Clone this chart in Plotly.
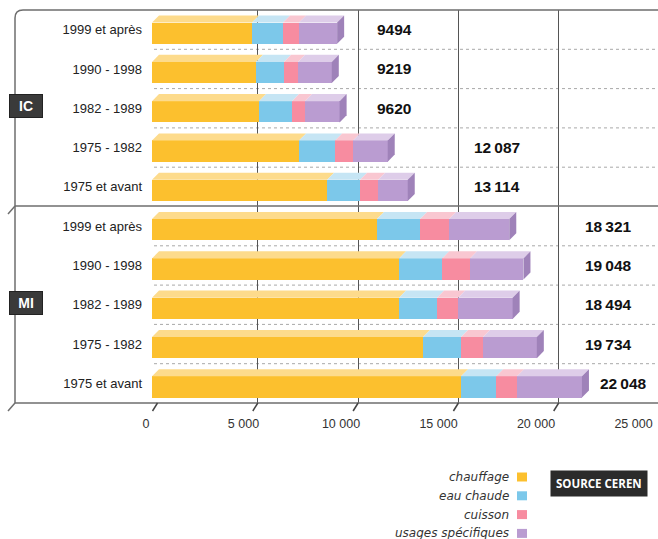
import plotly.graph_objects as go

# ---------------- data ----------------
categories = ["1999 et après", "1990 - 1998", "1982 - 1989", "1975 - 1982", "1975 et avant",
              "1999 et après", "1990 - 1998", "1982 - 1989", "1975 - 1982", "1975 et avant"]
groups = ["IC", "MI"]
series_names = ["chauffage", "eau chaude", "cuisson", "usages spécifiques"]
chauffage = [5130, 5335, 5490, 7540, 8980, 11540, 12670, 12670, 13900, 15850]
eau_chaude = [1590, 1435, 1690, 1850, 1690, 2210, 2210, 1950, 1950, 1800]
cuisson = [820, 720, 670, 920, 930, 1490, 1430, 1080, 1130, 1070]
usages = [1954, 1729, 1770, 1777, 1514, 3081, 2738, 2794, 2754, 3328]
totals = [9494, 9219, 9620, 12087, 13114, 18321, 19048, 18494, 19734, 22048]
tick_values = [0, 5000, 10000, 15000, 20000, 25000]
tick_labels = ["0", "5 000", "10 000", "15 000", "20 000", "25 000"]
source_text = "SOURCE CEREN"

# ---------------- style ----------------
front_colors = ["#FCC02E", "#7CC8EA", "#F78CA0", "#BA9CD1"]
top_colors = ["#FDDB8C", "#C6E5F4", "#F9C7D1", "#DECDE9"]
side_color = "#9F82B9"
FONT = "Liberation Sans, Arial, sans-serif"

W, H = 658, 539
L, T, B = 152, 10, 136
plot_w = W - L
plot_h = H - T - B
x_max = plot_w / 0.0195          # front plane scale
x2_min, x2_max = -274, 24950      # back plane (grid) scale

def px_to_paper_x(px):
    return (px - L) / plot_w

def py_to_paper_y(py):
    return (H - B - py) / plot_h

series = [chauffage, eau_chaude, cuisson, usages]
ypos = list(range(len(categories)))

fig = go.Figure()

FRONT_OFF, FRONT_W = -0.18, 0.54
for name, vals, col in zip(series_names, series, front_colors):
    fig.add_trace(go.Bar(
        y=ypos, x=vals, orientation="h", name=name,
        marker=dict(color=col, line=dict(width=0)),
        offset=FRONT_OFF, width=FRONT_W, showlegend=False,
        hovertemplate="%{x}<extra>" + name + "</extra>",
    ))

fig.add_trace(go.Scatter(x=[0], y=[0], xaxis="x2", yaxis="y", mode="markers",
                         marker=dict(opacity=0), showlegend=False, hoverinfo="skip"))

shapes = []
DX = 360      # depth in x units
DY = 0.18     # depth in y units
for i in ypos:
    start = 0
    y_top = i + FRONT_OFF
    for vals, col in zip(series, top_colors):
        end = start + vals[i]
        shapes.append(dict(
            type="path", xref="x", yref="y", layer="above",
            path=f"M {start},{y_top} L {start + DX},{y_top - DY} L {end + DX},{y_top - DY} L {end},{y_top} Z",
            fillcolor=col, line=dict(width=0)))
        start = end
    tot = start
    y_bot = i + FRONT_OFF + FRONT_W
    shapes.append(dict(
        type="path", xref="x", yref="y", layer="above",
        path=f"M {tot},{y_top} L {tot + DX},{y_top - DY} L {tot + DX},{y_bot - DY} L {tot},{y_bot} Z",
        fillcolor=side_color, line=dict(width=0)))

for i in range(len(categories) - 1):
    if i == 4:
        continue
    shapes.append(dict(type="line", xref="paper", yref="y", x0=px_to_paper_x(154), x1=1,
                       y0=i + 0.5, y1=i + 0.5, layer="below",
                       line=dict(color="#A8A8A8", width=1, dash="dot")))

frame = dict(color="#6E6E6E", width=1.5)
shapes.append(dict(type="path", xref="paper", yref="paper", layer="above",
                   path=(f"M {px_to_paper_x(15)},{py_to_paper_y(18)} "
                         f"Q {px_to_paper_x(15)},{py_to_paper_y(10)} {px_to_paper_x(23)},{py_to_paper_y(10)} "
                         f"L 1,{py_to_paper_y(10)}"),
                   line=frame))
for py in (206, 403):
    shapes.append(dict(type="line", xref="paper", yref="paper", layer="above",
                       x0=px_to_paper_x(15), x1=1, y0=py_to_paper_y(py), y1=py_to_paper_y(py),
                       line=frame))
    shapes.append(dict(type="line", xref="paper", yref="paper", layer="above",
                       x0=px_to_paper_x(15), x1=px_to_paper_x(8),
                       y0=py_to_paper_y(py), y1=py_to_paper_y(py + 8), line=frame))
shapes.append(dict(type="line", xref="paper", yref="paper", layer="above",
                   x0=px_to_paper_x(15), x1=px_to_paper_x(15),
                   y0=py_to_paper_y(18), y1=py_to_paper_y(403), line=frame))
for v in tick_values[:-1]:
    xb = (v - x2_min) / (x2_max - x2_min)
    shapes.append(dict(type="line", xref="paper", yref="paper", layer="above",
                       x0=xb, x1=xb - 5 / plot_w, y0=0, y1=-8 / plot_h,
                       line=dict(color="#444", width=1.5)))

def fmt(v):
    s = str(v)
    return s if v < 10000 else s[:-3] + "\u2009" + s[-3:]

# value labels sit in the grid column following the bar
label_col = {10000: 11440, 15000: 16420, 20000: 22100}
annotations = []
for i, tot in enumerate(totals):
    cell = min(-(-tot // 5000) * 5000, 20000)
    xl = max(label_col[cell], tot + 820)
    annotations.append(dict(x=xl, y=i, xref="x", yref="y", text=f"<b>{fmt(tot)}</b>",
                            showarrow=False, xanchor="left", yanchor="middle",
                            font=dict(family=FONT, size=15.5, color="#111")))
for g, row in zip(groups, [2, 7]):
    annotations.append(dict(x=px_to_paper_x(26), y=row - 0.05, xref="paper", yref="y",
                            text=f"<b>{g}</b>", showarrow=False, xanchor="center", yanchor="middle",
                            width=30, height=20,
                            bgcolor="#3A3A3A", bordercolor="#222", borderwidth=1, borderpad=1,
                            font=dict(family=FONT, size=14, color="white")))
for k, (name, col) in enumerate(zip(series_names, front_colors)):
    py = 477 + k * 18.8
    annotations.append(dict(x=px_to_paper_x(511), y=py_to_paper_y(py), xref="paper", yref="paper",
                            text=f"<i>{name}</i>", showarrow=False, xanchor="right", yanchor="middle",
                            font=dict(family="DejaVu Sans, sans-serif", size=12, color="#333")))
    shapes.append(dict(type="rect", xref="paper", yref="paper",
                       x0=px_to_paper_x(517), x1=px_to_paper_x(527),
                       y0=py_to_paper_y(py + 4.5), y1=py_to_paper_y(py - 4.5),
                       fillcolor=col, line=dict(width=0)))
annotations.append(dict(x=px_to_paper_x(599), y=py_to_paper_y(483), xref="paper", yref="paper",
                        text=f"<b>{source_text}</b>", showarrow=False, xanchor="center", yanchor="middle",
                        bgcolor="#2B2B2B", borderpad=5,
                        font=dict(family="Open Sans, Liberation Sans, sans-serif", size=11.5, color="white")))

fig.update_layout(
    width=W, height=H,
    margin=dict(l=L, r=0, t=T, b=B),
    paper_bgcolor="white", plot_bgcolor="white",
    barmode="stack", bargap=0,
    showlegend=False,
    xaxis=dict(range=[0, x_max], tickvals=tick_values, ticktext=tick_labels,
               showgrid=False, zeroline=False, showline=False, ticks="",
               ticklabelstandoff=11, ticklabelshift=-6,
               tickfont=dict(family=FONT, size=12.5, color="#333"), fixedrange=True),
    xaxis2=dict(range=[x2_min, x2_max], overlaying="x", side="bottom",
                tickvals=tick_values[1:-1], showticklabels=False,
                showgrid=True, gridcolor="#555", gridwidth=1, zeroline=False, ticks=""),
    yaxis=dict(range=[9.5, -0.5], tickvals=ypos, ticktext=categories,
               showgrid=False, zeroline=False, showline=False, ticks="",
               ticklabelstandoff=9,
               tickfont=dict(family=FONT, size=13, color="#222"), fixedrange=True),
    shapes=shapes,
    annotations=annotations,
)

fig.write_html("out.html", config={"displayModeBar": False},
               post_script="document.body.style.margin='0';")
